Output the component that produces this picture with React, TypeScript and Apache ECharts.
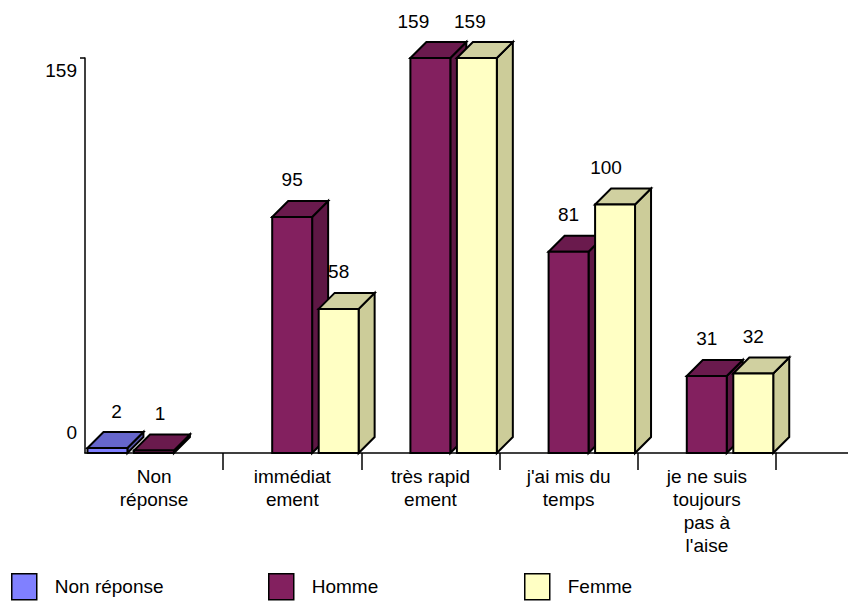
import React, { useEffect, useRef } from 'react';
import * as echarts from 'echarts';

// ---- data ----
const categories = [
  'Non\nréponse',
  'immédiat\nement',
  'très rapid\nement',
  "j'ai mis du\ntemps",
  "je ne suis\ntoujours\npas à\nl'aise",
];
const seriesNames = ['Non réponse', 'Homme', 'Femme'];
const nonReponse: (number | null)[] = [2, null, null, null, null];
const homme: (number | null)[] = [1, 95, 159, 81, 31];
const femme: (number | null)[] = [null, 58, 159, 100, 32];
const yTickValues = [0, 159];

// ---- styling / layout (not data) ----
const FONT = '"Liberation Sans", Arial, sans-serif';
const palette = [
  { front: '#8080FF', top: '#6666CC', side: '#5B5BB5' },
  { front: '#83205F', top: '#6A1A4D', side: '#5E1744' },
  { front: '#FFFFC4', top: '#D0D0A0', side: '#CCCC99' },
];
// small horizontal nudges of value labels, per series, per category
const labelNudge = [
  [9, 0, 0, 0, 0],
  [6, 0, -17, 0, 0],
  [0, 0, -7, -9, 0],
];
const GRID = { left: 85, top: 58, width: 691, height: 395 };
const DEPTH_X = 16;
const DEPTH_Y = -16;

export default function App() {
  const ref = useRef<HTMLDivElement>(null);

  useEffect(() => {
    document.body.style.margin = '0';
    const chart = echarts.init(ref.current!, null, { renderer: 'svg' });
    const allSeries = [nonReponse, homme, femme];

    const series = allSeries.map((vals, s) => ({
      type: 'custom',
      name: seriesNames[s],
      clip: false,
      itemStyle: { color: palette[s].front },
      encode: { x: 0, y: 1 },
      data: vals
        .map((v, i) => (v == null ? null : [i, v]))
        .filter((d) => d != null),
      renderItem: (params: any, api: any) => {
        const ci = api.value(0);
        const v = api.value(1);
        const base = api.coord([ci, 0]);
        const top = api.coord([ci, v]);
        const bw = api.size([1, 0])[0];
        const start = base[0] - bw / 2;
        const x0 = start + bw * (0.018 + s * 0.3365);
        const w = bw * 0.289;
        const yT = top[1];
        const yB = base[1];
        const col = palette[s];
        const stroke = { stroke: '#000', lineWidth: 2, lineJoin: 'miter' };
        return {
          type: 'group',
          children: [
            {
              type: 'polygon',
              shape: {
                points: [
                  [x0 + w, yT],
                  [x0 + w + DEPTH_X, yT + DEPTH_Y],
                  [x0 + w + DEPTH_X, yB + DEPTH_Y],
                  [x0 + w, yB],
                ],
              },
              style: { fill: col.side, ...stroke },
            },
            {
              type: 'polygon',
              shape: {
                points: [
                  [x0, yT],
                  [x0 + DEPTH_X, yT + DEPTH_Y],
                  [x0 + w + DEPTH_X, yT + DEPTH_Y],
                  [x0 + w, yT],
                ],
              },
              style: { fill: col.top, ...stroke },
            },
            {
              type: 'rect',
              shape: { x: x0, y: yT, width: w, height: Math.max(yB - yT, 0) },
              style: { fill: col.front, ...stroke },
            },
            {
              type: 'text',
              x: x0 + w / 2 + labelNudge[s][ci],
              y: yT - 37,
              style: {
                text: String(v),
                fontSize: 19,
                fontFamily: FONT,
                fill: '#000',
                align: 'center',
                verticalAlign: 'middle',
              },
            },
          ],
        };
      },
    }));

    const option: any = {
      animation: false,
      backgroundColor: '#fff',
      textStyle: { fontFamily: FONT },
      grid: { ...GRID, containLabel: false },
      xAxis: {
        type: 'category',
        data: categories,
        boundaryGap: true,
        axisLine: { lineStyle: { color: '#000', width: 1.5 } },
        axisTick: {
          show: true,
          length: 17,
          interval: (i: number) => i !== 0,
          lineStyle: { color: '#000', width: 1.5 },
        },
        axisLabel: {
          interval: 0,
          color: '#000',
          fontSize: 19,
          lineHeight: 23,
          margin: 12,
          fontFamily: FONT,
        },
        splitLine: { show: false },
      },
      yAxis: {
        type: 'value',
        min: yTickValues[0],
        max: yTickValues[1],
        interval: yTickValues[1],
        axisLine: { show: true, lineStyle: { color: '#000', width: 1.5 } },
        axisTick: {
          show: true,
          length: 5,
          customValues: [yTickValues[1]],
          lineStyle: { color: '#000', width: 1.5 },
        },
        splitLine: { show: false },
        axisLabel: {
          margin: 8,
          color: '#000',
          fontFamily: FONT,
          formatter: (v: number) => (v === yTickValues[0] ? `{b|${v}}` : `{t|${v}}`),
          rich: {
            b: { fontSize: 19, color: '#000', fontFamily: FONT, padding: [0, 0, 42, 0] },
            t: { fontSize: 19, color: '#000', fontFamily: FONT, padding: [24, 0, 0, 0] },
          },
        },
      },
      legend: seriesNames.map((n, i) => ({
        data: [n],
        left: [11, 268, 524][i],
        top: 573,
        padding: 0,
        icon: 'rect',
        itemWidth: 25,
        itemHeight: 26,
        selectedMode: false,
        itemStyle: { borderColor: '#000', borderWidth: 1.5 },
        textStyle: { fontSize: 19, color: '#000', fontFamily: FONT, padding: [0, 0, 0, 13] },
      })),
      graphic: [
        {
          type: 'line',
          shape: {
            x1: GRID.left + GRID.width,
            y1: GRID.top + GRID.height,
            x2: 848,
            y2: GRID.top + GRID.height,
          },
          style: { stroke: '#000', lineWidth: 1.5 },
        },
      ],
      series,
    };

    chart.setOption(option);
    return () => chart.dispose();
  }, []);

  return <div ref={ref} style={{ width: 848, height: 601 }} />;
}
